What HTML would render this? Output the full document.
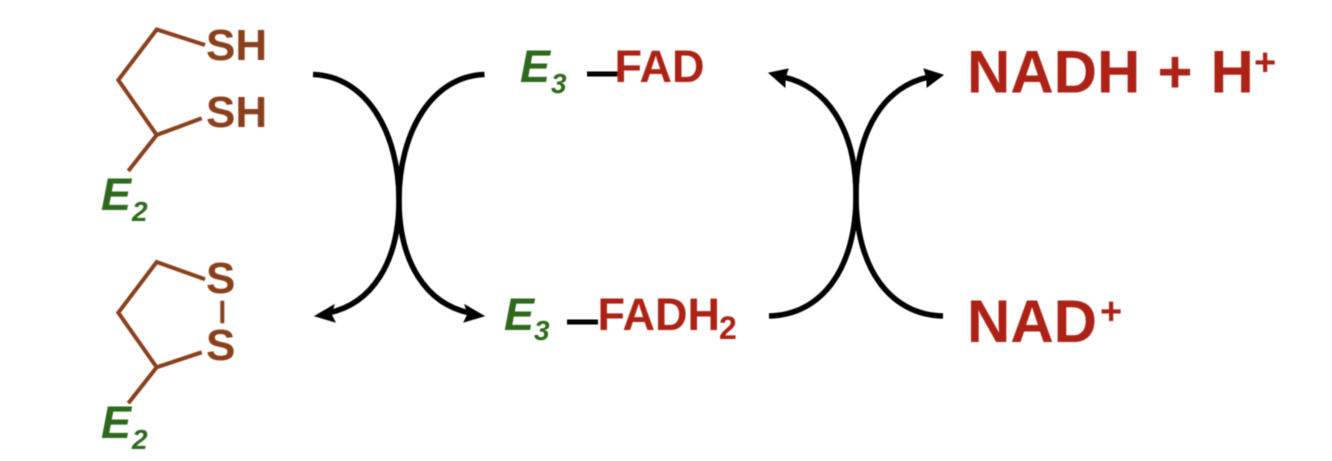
<!DOCTYPE html>
<html>
<head>
<meta charset="utf-8">
<style>
html,body{margin:0;padding:0;background:#fff;width:1332px;height:461px;overflow:hidden}
svg{display:block}
text{font-family:"Liberation Sans",sans-serif;font-weight:bold}
.br{fill:#8b3f1f;font-size:44px}
.gr{fill:#2f6b1f;font-style:italic;font-size:45px}
.gs{fill:#2f6b1f;font-style:italic;font-size:28px}
.rd{fill:#ae2419;font-size:45px}
.rs{fill:#ae2419;font-size:32px}
.big{fill:#ae2419;font-size:60px}
.sup{fill:#ae2419;font-size:38px}
.bond{fill:none;stroke:#8b3f1f;stroke-width:4}
.arc{fill:none;stroke:#000;stroke-width:5.500}
</style>
</head>
<body>
<svg width="1332" height="461" viewBox="0 0 1332 461" xmlns="http://www.w3.org/2000/svg">
<defs><filter id="b" x="0" y="0" width="100%" height="100%"><feGaussianBlur stdDeviation="0.5"/></filter></defs>
<rect width="1332" height="461" fill="#fff"/>
<g filter="url(#b)">
<path class="bond" d="M205 45L156.7 29.500L118.300 80L156.700 135L201.700 118.300M156.700 135L128.300 171"/>
<text class="br" x="206" y="60">SH</text>
<text class="br" x="206" y="127">SH</text>
<text class="gr" x="101" y="210">E</text>
<text class="gs" x="132" y="221">2</text>

<path class="bond" d="M205 279.300L156.700 262L118.300 312.700L156.700 367.300L201.700 352.300M156.700 367.300L128.300 403.300M222.300 300.700V323.300"/>
<text class="br" x="206" y="293">S</text>
<text class="br" x="206" y="360">S</text>
<text class="gr" x="101" y="438">E</text>
<text class="gs" x="132" y="449">2</text>

<path class="arc" d="M313 74.500C366 76 399 132 399 200C399 262 372 304 328 313"/>
<path class="arc" d="M484.500 74.500C432 76 399 132 399 200C399 262 426 304 470 313"/>
<path d="M315 316L334 305L331 314L335 322Z" stroke="#000" stroke-width="1"/>
<path d="M484 316L465 305L468 314L464 322Z" stroke="#000" stroke-width="1"/>

<path class="arc" d="M769 316C822 315 856 268 856 196C856 128 826 86 783 77"/>
<path class="arc" d="M943 316C890 315 856 268 856 196C856 128 886 86 929 77"/>
<path d="M769 73L788 69L785 78L785 87Z" stroke="#000" stroke-width="1"/>
<path d="M943 75L924 69L927 78L927 87Z" stroke="#000" stroke-width="1"/>

<text class="gr" x="520" y="82">E</text>
<text class="gs" x="551" y="93">3</text>
<rect x="587" y="71.500" width="31" height="5" fill="#000"/>
<text class="rd" x="614.500" y="82">FAD</text>

<text class="gr" x="504" y="330">E</text>
<text class="gs" x="534" y="340">3</text>
<rect x="567" y="319.500" width="31" height="5" fill="#000"/>
<text class="rd" x="597.500" y="330">FADH</text>
<text class="rs" x="719" y="339">2</text>

<text class="big" x="967" y="92.500">NADH</text>
<text class="big" x="1157.500" y="92.500">+</text>
<text class="big" x="1210.500" y="92.500">H</text>
<text class="sup" x="1254" y="75">+</text>
<text class="big" x="967" y="342">NAD</text>
<text class="sup" x="1100" y="324">+</text>
</g>
</svg>
</body>
</html>
